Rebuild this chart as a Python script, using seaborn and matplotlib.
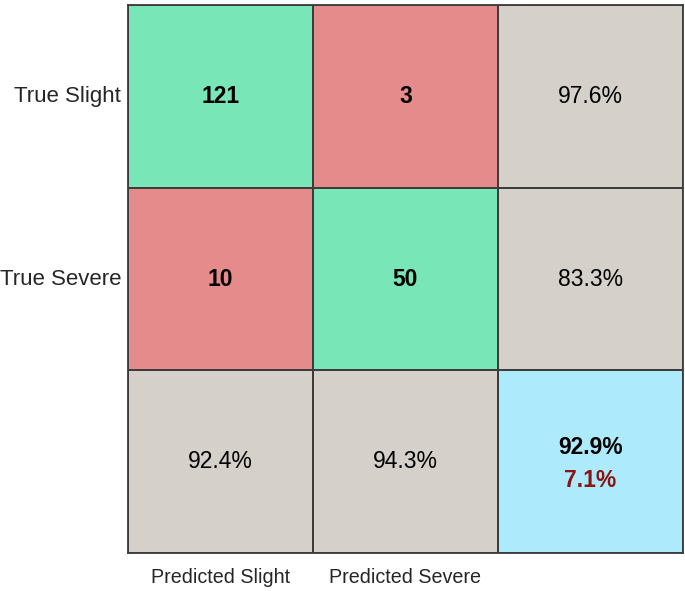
import numpy as np
import pandas as pd
import matplotlib
matplotlib.use("Agg")
import matplotlib.pyplot as plt
from matplotlib.colors import ListedColormap
import seaborn as sns

row_labels = ["True Slight", "True Severe"]
col_labels = ["Predicted Slight", "Predicted Severe"]
counts = [[121, 3],
          [10, 50]]

sns.set_theme(style="white")
plt.rcParams['font.family'] = ['Liberation Sans', 'DejaVu Sans']

c = np.array(counts, dtype=float)
row_pct = np.diag(c) / c.sum(axis=1) * 100
col_pct = np.diag(c) / c.sum(axis=0) * 100
acc = np.trace(c) / c.sum() * 100
err = 100 - acc

# category grid: 0 correct, 1 wrong, 2 summary, 3 overall
cat = np.array([[0, 1, 2],
                [1, 0, 2],
                [2, 2, 3]])
cmap = ListedColormap(["#78E6B6", "#E68B8B", "#D5D0CA", "#ADEBFC"])

labels = np.empty((3, 3), dtype=object)
for i in range(2):
    for j in range(2):
        labels[i, j] = str(counts[i][j])
    labels[i, 2] = f"{row_pct[i]:.1f}%"
for j in range(2):
    labels[2, j] = f"{col_pct[j]:.1f}%"
labels[2, 2] = ""

fig = plt.figure(figsize=(6.85, 5.91), dpi=100)
ax = fig.add_axes([0.1869, 0.0643, 0.8101, 0.9272])
df = pd.DataFrame(cat, index=row_labels + [""], columns=col_labels + [""])
sns.heatmap(df, ax=ax, cmap=cmap, vmin=-0.5, vmax=3.5, cbar=False,
            annot=labels, fmt="", linewidths=1.1, linecolor="#3c3c3c",
            annot_kws={"fontsize": 16.5, "color": "black"})

for t in ax.texts:
    if "%" not in t.get_text():
        t.set_fontweight("bold")

ax.text(2.5, 2.425, f"{acc:.1f}%", ha="center", va="center", fontsize=16.5,
        fontweight="bold", color="black")
ax.text(2.5, 2.605, f"{err:.1f}%", ha="center", va="center", fontsize=16.5,
        fontweight="bold", color="#8B1414")

for s in ax.spines.values():
    s.set_visible(True)
    s.set_color("#3c3c3c")
    s.set_linewidth(1.3)

ax.tick_params(axis="both", length=0, labelcolor="#262626")
ax.tick_params(axis="y", pad=5, labelsize=16)
ax.tick_params(axis="x", pad=11, labelsize=14.2)
plt.setp(ax.get_yticklabels(), rotation=0)
plt.setp(ax.get_xticklabels(), rotation=0)

fig.savefig("out.png", dpi=100)
